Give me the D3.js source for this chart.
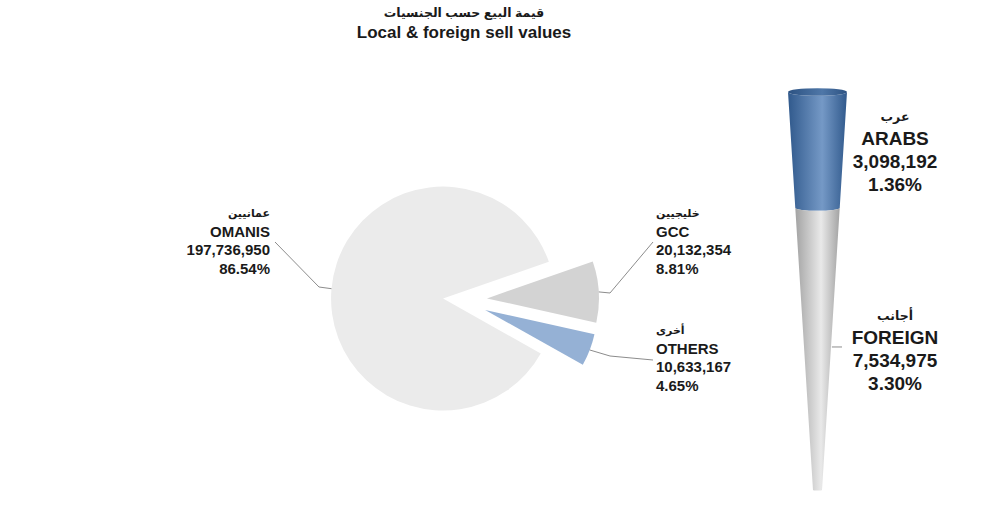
<!DOCTYPE html>
<html><head><meta charset="utf-8">
<script src="https://cdn.jsdelivr.net/npm/d3@7"></script>
<style>
body{margin:0;background:#fff;}
text{font-family:"Liberation Sans",Arial,"DejaVu Sans",sans-serif;font-weight:bold;fill:#1a1a1a;}
</style></head>
<body><svg id="c" width="1000" height="516"></svg>
<script>
const titleAr = "قيمة البيع حسب الجنسيات";
const titleEn = "Local & foreign sell values";
const categories = ["OMANIS", "GCC", "OTHERS"];
const categoriesAr = ["عمانيين", "خليجيين", "أخرى"];
const values = [197736950, 20132354, 10633167];
const subCategories = ["ARABS", "FOREIGN"];
const subCategoriesAr = ["عرب", "أجانب"];
const subValues = [3098192, 7534975];

const svg = d3.select("#c");
const total = d3.sum(values);
const fmtN = d3.format(",");
const fmtP = d3.format(".2%");

// Title
svg.append("text").attr("x", 464).attr("y", 17).attr("text-anchor", "middle")
  .style("font-size", "12.5px").text(titleAr);
svg.append("text").attr("x", 464).attr("y", 38).attr("text-anchor", "middle")
  .style("font-size", "17px").text(titleEn);

// Pie
const cx = 459, cy = 300, R = 112;
const colors = ["#ebebeb", "#d3d3d3", "#95b1d5"];
const explode = [16, 28, 28];
const a0 = 119.3 * Math.PI / 180;
const pie = d3.pie().sort(null).startAngle(a0).endAngle(a0 + 2 * Math.PI);
const arcs = pie(values);
const arc = d3.arc().innerRadius(0).outerRadius(R);
const g = svg.append("g").attr("transform", `translate(${cx},${cy})`);
arcs.forEach((d, i) => {
  const m = (d.startAngle + d.endAngle) / 2;
  const dx = Math.sin(m) * explode[i], dy = -Math.cos(m) * explode[i];
  g.append("path").attr("d", arc(d)).attr("fill", colors[i])
    .attr("transform", `translate(${dx},${dy})`);
});

// Pie labels
const labelCfg = [
  {x: 270, y: 217, anchor: "end", elbow: [319, 287], end: [275, 242]},
  {x: 656, y: 217, anchor: "start", elbow: [610, 293], end: [653, 242]},
  {x: 656, y: 334, anchor: "start", elbow: [610, 356], end: [653, 360]}
];
const lh = 18.7;
arcs.forEach((d, i) => {
  const c = labelCfg[i];
  const m = (d.startAngle + d.endAngle) / 2;
  const rr = R + explode[i];
  const sx = cx + Math.sin(m) * rr, sy = cy - Math.cos(m) * rr;
  svg.append("path")
    .attr("d", d3.line()([[sx, sy], c.elbow, c.end]))
    .attr("fill", "none").attr("stroke", "#8c8c8c").attr("stroke-width", 1);
  const lines = [categoriesAr[i], categories[i], fmtN(values[i]), fmtP(values[i] / total)];
  lines.forEach((t, k) => {
    svg.append("text").attr("x", c.x).attr("y", c.y + k * lh + (k > 0 ? 1 : 0))
      .attr("text-anchor", c.anchor)
      .style("font-size", k === 0 ? "11px" : "15px").text(t);
  });
});

// Cone (stacked)
const subTotal = d3.sum(subValues);
const y = d3.scaleLinear().domain([0, subTotal]).range([490, 92]);
const w = d3.scaleLinear().domain([0, subTotal]).range([4.5, 29.5]);
const ccx = 817.5;
const defs = svg.append("defs");
function grad(id, edge, mid) {
  const gr = defs.append("linearGradient").attr("id", id).attr("x1", 0).attr("x2", 1).attr("y1", 0).attr("y2", 0);
  gr.append("stop").attr("offset", "0%").attr("stop-color", edge);
  gr.append("stop").attr("offset", "58%").attr("stop-color", mid);
  gr.append("stop").attr("offset", "100%").attr("stop-color", edge);
}
grad("gBlue", "#30598c", "#7599c6");
grad("gGray", "#a3a3a3", "#e9e9e9");
grad("gCap", "#2c5282", "#4f77a8");
const segFill = ["url(#gBlue)", "url(#gGray)"];
// stack: FOREIGN at bottom, ARABS on top
let acc = 0;
const segs = [];
for (let i = subValues.length - 1; i >= 0; i--) {
  segs[i] = {lo: acc, hi: acc + subValues[i]};
  acc += subValues[i];
}
const ryF = 0.13;
segs.forEach((s, i) => {
  const yt = y(s.hi), yb = y(s.lo), wt = w(s.hi), wb = w(s.lo);
  const p = `M${ccx - wt},${yt} L${ccx - wb},${yb} A${wb},${wb * ryF} 0 0 0 ${ccx + wb},${yb} L${ccx + wt},${yt} A${wt},${wt * ryF} 0 0 1 ${ccx - wt},${yt} Z`;
  svg.append("path").attr("d", p).attr("fill", segFill[i]);
});
// top cap
svg.append("ellipse").attr("cx", ccx).attr("cy", y(subTotal))
  .attr("rx", w(subTotal)).attr("ry", w(subTotal) * ryF).attr("fill", "url(#gCap)");

// Cone labels
const lh2 = 23;
segs.forEach((s, i) => {
  const ym = (y(s.hi) + y(s.lo)) / 2;
  const lines = [subCategoriesAr[i], subCategories[i], fmtN(subValues[i]), fmtP(subValues[i] / total)];
  const top = ym - 1.5 * lh2 + 6;
  lines.forEach((t, k) => {
    svg.append("text").attr("x", 895).attr("y", top + k * lh2 + (k > 0 ? 1 : 0))
      .attr("text-anchor", "middle")
      .style("font-size", k === 0 ? "12.5px" : "19px").text(t);
  });
  if (i === 1) {
    svg.append("line").attr("x1", ccx + w((s.hi + s.lo) / 2) + 1).attr("x2", 842)
      .attr("y1", ym - 2).attr("y2", ym - 2)
      .attr("stroke", "#8c8c8c").attr("stroke-width", 1);
  }
});
</script></body></html>
